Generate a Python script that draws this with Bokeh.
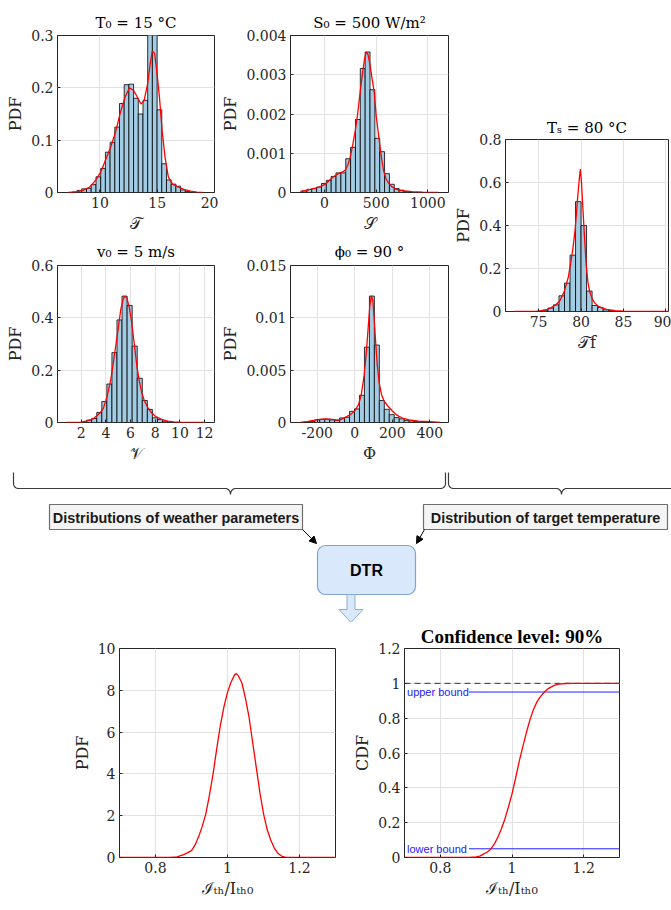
import numpy as np
from bokeh.plotting import figure
from bokeh.layouts import row, column, Spacer
from bokeh.models import Range1d, Arrow, NormalHead
from bokeh.embed import file_html
from bokeh.resources import INLINE
from bokeh.core.properties import value

SERIF = "DejaVu Serif"
TIMES = "Liberation Serif"
SANS = "Liberation Sans"
HIST_FILL = "#a2cbe4"
TXT = "#262626"

# ---------------- data ----------------
# ambient temperature
T_edges = [7.60, 8.01, 8.42, 8.83, 9.24, 9.66, 10.07, 10.48, 10.89, 11.30, 11.71, 12.12, 12.53,
           12.94, 13.35, 13.76, 14.17, 14.58, 14.99, 15.40, 15.81, 16.22, 16.63, 17.04, 17.45, 17.86]
T_pdf = [0.001, 0.004, 0.007, 0.008, 0.015, 0.030, 0.046, 0.077, 0.096, 0.125, 0.170, 0.206, 0.207,
         0.180, 0.150, 0.176, 0.340, 0.320, 0.158, 0.055, 0.024, 0.016, 0.012, 0.005, 0.002]
T_kde_x = [7.24, 7.95, 8.52, 9.09, 9.66, 10.09, 10.51, 10.94, 11.36, 11.79, 12.22, 12.59, 12.93,
           13.30, 13.58, 13.86, 14.15, 14.38, 14.57, 14.77, 14.97, 15.20, 15.43, 15.68, 15.97,
           16.34, 16.76, 17.33, 17.90, 18.47, 18.98]
T_kde_y = [0.0, 0.001, 0.004, 0.010, 0.024, 0.040, 0.063, 0.087, 0.115, 0.153, 0.184, 0.200, 0.195,
           0.181, 0.169, 0.176, 0.206, 0.244, 0.270, 0.266, 0.231, 0.181, 0.118, 0.068, 0.030,
           0.016, 0.011, 0.006, 0.0025, 0.0006, 0.0]

# solar radiation
S_edges = [-218, -171, -124, -77, -30, 17, 64, 111, 158, 205, 252, 299, 346, 393, 440, 487,
           534, 581, 628, 675, 722, 769, 816]
S_pdf = [0.00004, 0.00008, 0.00010, 0.00014, 0.00023, 0.00031, 0.00041, 0.00050, 0.00050,
         0.00086, 0.00115, 0.00186, 0.00316, 0.00358, 0.00262, 0.00138, 0.00104, 0.00048,
         0.00021, 0.00010, 0.00006, 0.00003]
S_kde_x = [-235, -190, -139, -90, -42, 0, 23, 55, 87, 120, 152, 180, 203, 225, 248, 272, 297,
           320, 345, 370, 390, 405, 420, 440, 460, 481, 500, 526, 550, 571, 595, 619, 650, 680,
           720, 760, 850, 950, 1100]
S_kde_y = [0.00003, 0.00005, 0.00008, 0.00011, 0.00015, 0.00020, 0.00025, 0.00033, 0.00040,
           0.00046, 0.00050, 0.00053, 0.00058, 0.00070, 0.00090, 0.00120, 0.00157, 0.00200,
           0.00257, 0.00310, 0.00345, 0.00358, 0.00352, 0.00325, 0.00290, 0.00255, 0.00195,
           0.00140, 0.00090, 0.00056, 0.00035, 0.00024, 0.00015, 0.00010, 0.00006, 0.00004,
           0.00002, 0.00001, 0.0]

# target temperature
Ts_edges = [74.80, 75.45, 76.10, 76.75, 77.40, 78.05, 78.70, 79.35, 80.00, 80.65, 81.30,
            81.95, 82.60, 83.25, 83.90]
Ts_pdf = [0.002, 0.006, 0.016, 0.031, 0.073, 0.132, 0.262, 0.511, 0.400, 0.095, 0.028,
          0.019, 0.008, 0.005]
Ts_kde_x = [72.2, 74.0, 75.0, 75.5, 76.0, 76.5, 77.0, 77.5, 78.0, 78.5, 79.0, 79.3, 79.6, 79.8,
            79.92, 80.05, 80.2, 80.4, 80.6, 80.8, 81.0, 81.3, 81.6, 82.0, 82.5, 83.0, 84.0, 85.0,
            86.0, 87.0, 88.0, 90.3]
Ts_kde_y = [0.0, 0.0005, 0.002, 0.005, 0.010, 0.018, 0.030, 0.050, 0.090, 0.160, 0.280, 0.380,
            0.530, 0.620, 0.663, 0.600, 0.490, 0.350, 0.220, 0.140, 0.095, 0.060, 0.040, 0.025,
            0.016, 0.010, 0.004, 0.002, 0.0007, 0.0002, 0.0, 0.0]

# wind speed
V_edges = [2.44, 2.85, 3.26, 3.67, 4.08, 4.49, 4.90, 5.31, 5.72, 6.13, 6.54, 6.95, 7.36,
           7.77, 8.18, 8.59, 9.00]
V_pdf = [0.009, 0.015, 0.038, 0.080, 0.147, 0.267, 0.392, 0.483, 0.447, 0.292, 0.169, 0.084,
         0.050, 0.018, 0.011, 0.005]
V_kde_x = [0.8, 1.5, 2.0, 2.5, 3.0, 3.5, 3.8, 4.1, 4.4, 4.7, 5.0, 5.2, 5.4, 5.55, 5.7, 5.9, 6.1,
           6.3, 6.5, 6.7, 6.9, 7.1, 7.4, 7.7, 8.0, 8.5, 9.0, 9.5, 10.0, 11.0, 12.1]
V_kde_y = [0.0, 0.0005, 0.001, 0.006, 0.015, 0.035, 0.055, 0.100, 0.165, 0.260, 0.360, 0.430,
           0.472, 0.483, 0.475, 0.440, 0.380, 0.300, 0.220, 0.160, 0.115, 0.085, 0.057, 0.037,
           0.024, 0.012, 0.005, 0.002, 0.001, 0.0002, 0.0]

# wind angle
P_edges = [-266.5, -240, -213.5, -187, -160.5, -134, -107.5, -81, -54.5, -28, -1.5, 25, 51.5,
           78, 104.5, 131, 157.5, 184, 210.5, 237, 263.5, 290, 316.5, 343, 369.5, 396]
P_pdf = [0.00005, 0.00010, 0.00025, 0.00030, 0.00030, 0.00025, 0.00020, 0.00044, 0.00050,
         0.00107, 0.00130, 0.00260, 0.00720, 0.01208, 0.00740, 0.00210, 0.00126, 0.00075,
         0.00047, 0.00035, 0.00020, 0.00015, 0.00010, 0.00010, 0.00008]
P_kde_x = [-290, -250, -220, -190, -160, -130, -100, -80, -60, -40, -20, 0, 20, 35, 50, 62, 72,
           80, 88, 96, 104, 112, 120, 130, 142, 155, 175, 200, 225, 250, 290, 340, 400, 456]
P_kde_y = [0.0, 0.0001, 0.0002, 0.0003, 0.00035, 0.00032, 0.00025, 0.00025, 0.0004, 0.0006,
           0.0008, 0.0011, 0.0017, 0.0027, 0.0045, 0.0068, 0.0092, 0.0111, 0.0121, 0.0117,
           0.0098, 0.0075, 0.0055, 0.0038, 0.0027, 0.0021, 0.0016, 0.0011, 0.0007, 0.00045,
           0.00025, 0.00012, 0.00008, 0.0]

# DTR outputs
I_pdf_x = [0.70, 0.84, 0.86, 0.88, 0.90, 0.91, 0.92, 0.93, 0.94, 0.95, 0.96, 0.97, 0.98, 0.99,
           1.00, 1.01, 1.02, 1.025, 1.03, 1.04, 1.05, 1.06, 1.07, 1.08, 1.09, 1.10, 1.11, 1.12,
           1.13, 1.14, 1.15, 1.16, 1.30]
I_pdf = [0.0, 0.0, 0.03, 0.15, 0.33, 0.60, 1.00, 1.50, 2.10, 3.00, 4.00, 5.20, 6.30, 7.20, 7.90,
         8.40, 8.75, 8.80, 8.70, 8.35, 7.60, 6.70, 5.50, 4.30, 3.10, 2.10, 1.35, 0.84, 0.45,
         0.20, 0.07, 0.02, 0.0]
I_cdf_x = [0.70, 0.86, 0.88, 0.90, 0.91, 0.92, 0.93, 0.94, 0.95, 0.96, 0.97, 0.98, 0.99, 1.00,
           1.01, 1.02, 1.03, 1.04, 1.05, 1.06, 1.07, 1.08, 1.09, 1.10, 1.11, 1.12, 1.13, 1.15,
           1.17, 1.30]
I_cdf = [0.0, 0.0, 0.001, 0.003, 0.008, 0.019, 0.030, 0.046, 0.075, 0.114, 0.162, 0.220, 0.290,
         0.365, 0.455, 0.550, 0.635, 0.716, 0.790, 0.850, 0.895, 0.925, 0.950, 0.968, 0.980,
         0.990, 0.996, 0.999, 1.0, 1.0]
lower_bound = 0.05
upper_bound = 0.95
bound_start = 0.88


# ---------------- helpers ----------------
def make_fig(w, h, xr, yr, bl, br, bt, bb):
    p = figure(width=w, height=h, x_range=Range1d(*xr), y_range=Range1d(*yr),
               output_backend="svg", toolbar_location=None,
               min_border_left=bl, min_border_right=br, min_border_top=bt, min_border_bottom=bb)
    p.outline_line_color = TXT
    p.outline_line_width = 1
    p.outline_line_alpha = 1
    return p


def style(p, xticks, xlabels, yticks, ylabels, xlabel, ylabel, title=None, title_standoff=7):
    p.xaxis.ticker = xticks
    p.yaxis.ticker = yticks
    p.xaxis.major_label_overrides = dict(zip(xticks, xlabels))
    p.yaxis.major_label_overrides = dict(zip(yticks, ylabels))
    for ax in (p.xaxis[0], p.yaxis[0]):
        ax.axis_line_color = None
        ax.major_tick_in = 3
        ax.major_tick_out = 0
        ax.major_tick_line_color = TXT
        ax.minor_tick_line_color = None
        ax.major_label_text_font = SERIF
        ax.major_label_text_font_size = "14px"
        ax.major_label_text_color = TXT
        ax.major_label_standoff = 4
        ax.axis_label_text_font = SERIF
        ax.axis_label_text_font_style = "normal"
        ax.axis_label_text_color = TXT
        ax.axis_label_standoff = 3
    p.xaxis.axis_label = xlabel
    p.yaxis.axis_label = ylabel
    p.xaxis.axis_label_text_font_size = "16px"
    p.yaxis.axis_label_text_font_size = "16px"
    p.grid.grid_line_color = "#e2e2e2"
    p.grid.grid_line_width = 1
    if title is not None:
        p.title.text = title
        p.title.align = "center"
        p.title.text_font = SERIF
        p.title.text_font_size = "15px"
        p.title.text_font_style = "normal"
        p.title.text_color = "black"
        p.title.standoff = title_standoff


def hist(p, edges, heights, kx, ky):
    p.quad(left=edges[:-1], right=edges[1:], top=heights, bottom=0,
           fill_color=HIST_FILL, line_color="black", line_width=0.8)
    p.line(kx, ky, line_color="red", line_width=1.3)


# ---------------- top histograms ----------------
f1 = make_fig(216, 228, (6.3, 20.0), (0, 0.3), 55, 4, 24, 44)
style(f1, [10, 15, 20], ["10", "15", "20"], [0, 0.1, 0.2, 0.3], ["0", "0.1", "0.2", "0.3"],
      "𝒯", "PDF", "T₀ = 15 °C", 7)
hist(f1, T_edges, T_pdf, T_kde_x, T_kde_y)

f2 = make_fig(233, 228, (-330, 1200), (0, 0.004), 72, 3, 24, 44)
style(f2, [0, 500, 1000], ["0", "500", "1000"], [0, 0.001, 0.002, 0.003, 0.004],
      ["0", "0.001", "0.002", "0.003", "0.004"], "𝒮", "PDF", "S₀ = 500 W/m²", 7)
hist(f2, S_edges, S_pdf, S_kde_x, S_kde_y)

f4 = make_fig(216, 229, (0.08, 12.8), (0, 0.6), 55, 4, 28, 42)
style(f4, [2, 4, 6, 8, 10, 12], ["2", "4", "6", "8", "10", "12"], [0, 0.2, 0.4, 0.6],
      ["0", "0.2", "0.4", "0.6"], "𝒱", "PDF", "v₀ = 5 m/s", 9)
hist(f4, V_edges, V_pdf, V_kde_x, V_kde_y)

f5 = make_fig(233, 229, (-343, 500), (0, 0.015), 72, 3, 28, 42)
style(f5, [-200, 0, 200, 400], ["-200", "0", "200", "400"], [0, 0.005, 0.01, 0.015],
      ["0", "0.005", "0.01", "0.015"], "Φ", "PDF", "ϕ₀ = 90 °", 9)
hist(f5, P_edges, P_pdf, P_kde_x, P_kde_y)

f3 = make_fig(220, 247, (71.1, 90.3), (0, 0.8), 53, 3, 31, 44)
style(f3, [75, 80, 85, 90], ["75", "80", "85", "90"], [0, 0.2, 0.4, 0.6, 0.8],
      ["0", "0.2", "0.4", "0.6", "0.8"], "𝒯f", "PDF", "Tₛ = 80 °C", 6)
hist(f3, Ts_edges, Ts_pdf, Ts_kde_x, Ts_kde_y)

left_block = column(row(f1, f2), row(f4, f5))
right_block = column(Spacer(width=220, height=100), f3, Spacer(width=220, height=110))
top = row(Spacer(width=2, height=457), left_block, right_block)

# ---------------- diagram ----------------
d = figure(width=671, height=157, x_range=Range1d(0, 671), y_range=Range1d(622, 465),
           output_backend="svg", toolbar_location=None, x_axis_type=None, y_axis_type=None,
           min_border_left=0, min_border_right=0, min_border_top=0, min_border_bottom=0)
d.grid.visible = False
d.outline_line_color = None


def brace(x0, x1, xt, ytop, ymid, ytip, r=5):
    t = np.linspace(0, np.pi / 2, 12)
    xs, ys = [x0], [ytop]
    xs += list(x0 + r - r * np.cos(t)); ys += list(ymid - r + r * np.sin(t))
    xs += list(xt - r + r * np.sin(t)); ys += list(ymid + (ytip - ymid) * (1 - np.cos(t)))
    xs += list(xt + r * (1 - np.cos(t))); ys += list(ytip - (ytip - ymid) * np.sin(t))
    xs += list(x1 - r + r * np.sin(t)); ys += list(ymid - r + r * np.cos(t))
    xs.append(x1); ys.append(ytop)
    return xs, ys


brace_specs = [(13, 445, 230), (448, 676, 561)]
for b in brace_specs:
    bx, by = brace(b[0], b[1], b[2], 472, 488, 494)
    d.line(bx, by, line_color="#3a3a3a", line_width=1.2)

boxes = [(49, 302, "Distributions of weather parameters"),
         (423, 667, "Distribution of target temperature")]
for (l, r, txt) in boxes:
    d.quad(left=l, right=r, top=504, bottom=529, fill_color="#f4f4f4", line_color="#6e6e6e",
           line_width=1.2)
    d.text(x=[(l + r) / 2], y=[517], text=[txt], text_font=value(SANS), text_font_style="bold",
           text_font_size="14.4px", text_align="center", text_baseline="middle",
           text_color="#1a1a1a")

arrow_specs = [(302, 529, 316, 543), (424, 529, 416, 543)]
for (xs, ys, xe, ye) in arrow_specs:
    d.add_layout(Arrow(end=NormalHead(size=7, fill_color="black", line_color="black"),
                       x_start=xs, y_start=ys, x_end=xe, y_end=ye, line_color="black",
                       line_width=1))

d.quad(left=317, right=415, top=545, bottom=594, fill_color="#dae8fc", line_color="#7fa3d6",
       line_width=1.2, border_radius=8)
d.text(x=[366], y=[570], text=["DTR"], text_font=value(SANS), text_font_style="bold",
       text_font_size="16px", text_align="center", text_baseline="middle", text_color="black")
d.patch([346.5, 354.5, 354.5, 362.5, 350.5, 338.5, 346.5], [594, 594, 609, 609, 622, 609, 609],
        fill_color="#dae8fc", line_color="#8aaedd", line_width=1)

# ---------------- bottom plots ----------------
g1 = make_fig(290, 278, (0.7, 1.3), (0, 10), 59, 15, 25, 42)
style(g1, [0.8, 1, 1.2], ["0.8", "1", "1.2"], [0, 2, 4, 6, 8, 10],
      ["0", "2", "4", "6", "8", "10"], "ℐₜₕ/Iₜₕ₀", "PDF")
g1.line(I_pdf_x, I_pdf, line_color="red", line_width=1.3)

g2 = make_fig(290, 278, (0.7, 1.3), (0, 1.2), 53, 21, 25, 42)
style(g2, [0.8, 1, 1.2], ["0.8", "1", "1.2"], [0, 0.2, 0.4, 0.6, 0.8, 1, 1.2],
      ["0", "0.2", "0.4", "0.6", "0.8", "1", "1.2"], "ℐₜₕ/Iₜₕ₀", "CDF", "Confidence level: 90%")
g2.title.text_font = TIMES
g2.title.text_font_style = "bold"
g2.title.text_font_size = "19px"
g2.title.standoff = 3
g2.line([0.7, 1.3], [1, 1], line_color="#333333", line_dash="6 4", line_width=1)
g2.line([bound_start, 1.3], [upper_bound, upper_bound], line_color="#2020ff", line_width=1)
g2.line([bound_start, 1.3], [lower_bound, lower_bound], line_color="#2020ff", line_width=1)
g2.text(x=[0.707, 0.707], y=[upper_bound, lower_bound], text=["upper bound", "lower bound"],
        text_font=value(SANS), text_font_size="11px", text_color="#2020ff",
        text_align="left", text_baseline="middle")
g2.line(I_cdf_x, I_cdf, line_color="red", line_width=1.3)

bottom = row(Spacer(width=60, height=278), g1, g2, Spacer(width=21, height=278))

layout = column(Spacer(width=671, height=8), top, d, bottom)

open("out.html", "w").write(file_html(layout, INLINE))
